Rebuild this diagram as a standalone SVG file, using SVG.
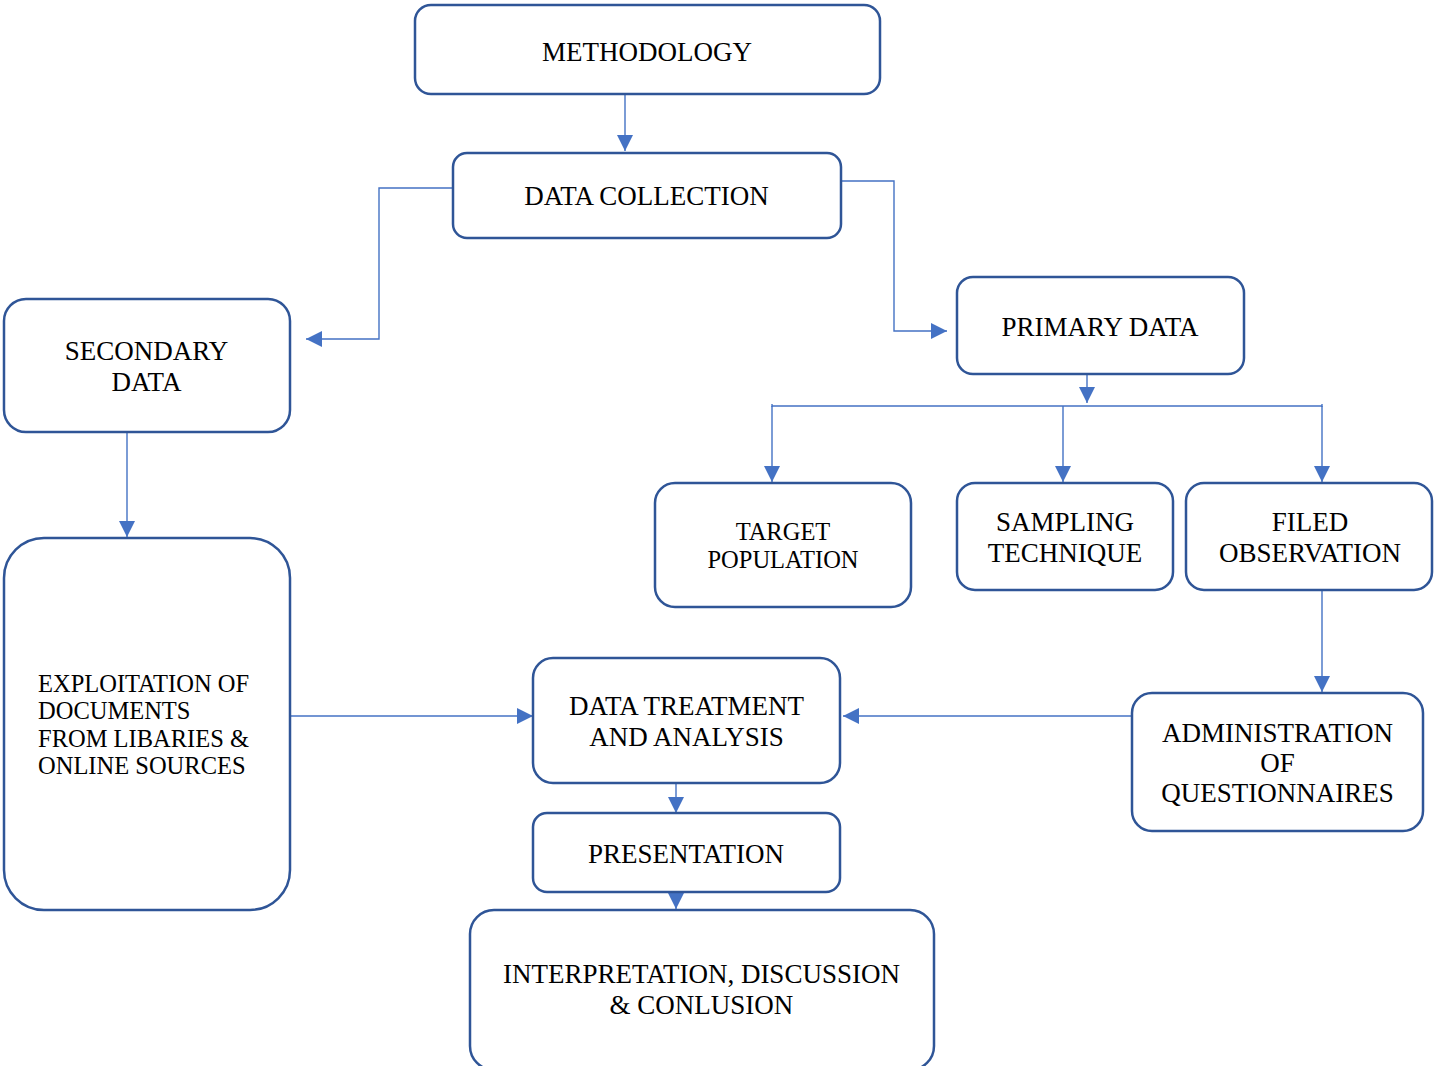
<svg xmlns="http://www.w3.org/2000/svg" width="1434" height="1066" viewBox="0 0 1434 1066">
<style>
.box{fill:#fff;stroke:#2F5597;stroke-width:2.5}
.t{font-family:"Liberation Serif","Times New Roman",serif;font-size:27px;fill:#000;text-anchor:middle}
.s{font-size:24.5px}
.l{text-anchor:start}
.c{fill:none;stroke:#4472C4;stroke-width:1.4}
</style>
<defs>
<marker id="ah" markerUnits="userSpaceOnUse" markerWidth="16" markerHeight="16" viewBox="0 0 16 16" refX="16" refY="8" orient="auto">
<path d="M0,0 L16,8 L0,16 Z" fill="#4472C4"/>
</marker>
</defs>
<rect width="1434" height="1066" fill="#fff"/>
<g id="connectors">
<path class="c" d="M625,94 V151" marker-end="url(#ah)"/>
<path class="c" d="M453,188 H379 V339 H306" marker-end="url(#ah)"/>
<path class="c" d="M841,181 H894 V331 H947" marker-end="url(#ah)"/>
<path class="c" d="M1087,374 V403" marker-end="url(#ah)"/>
<path class="c" d="M772,406 H1322 M772,404 V407 M1322,404 V407"/>
<path class="c" d="M772,406 V482" marker-end="url(#ah)"/>
<path class="c" d="M1063,406 V482" marker-end="url(#ah)"/>
<path class="c" d="M1322,406 V482" marker-end="url(#ah)"/>
<path class="c" d="M127,433 V537" marker-end="url(#ah)"/>
<path class="c" d="M291,716 H533" marker-end="url(#ah)"/>
<path class="c" d="M1132,716 H843" marker-end="url(#ah)"/>
<path class="c" d="M1322,590 V692" marker-end="url(#ah)"/>
<path class="c" d="M676,783 V813" marker-end="url(#ah)"/>
<path class="c" d="M676,879 V909" marker-end="url(#ah)"/>
</g>
<g id="methodology">
<rect class="box" x="415" y="5" width="465" height="89" rx="16"/>
<text class="t" x="647" y="61">METHODOLOGY</text>
</g>
<g id="data-collection">
<rect class="box" x="453" y="153" width="388" height="85" rx="14"/>
<text class="t" x="646.5" y="205">DATA COLLECTION</text>
</g>
<g id="secondary-data">
<rect class="box" x="4" y="299" width="286" height="133" rx="22"/>
<text class="t" x="146.5" y="360">SECONDARY</text>
<text class="t" x="146.5" y="391">DATA</text>
</g>
<g id="primary-data">
<rect class="box" x="957" y="277" width="287" height="97" rx="16"/>
<text class="t" x="1100" y="336">PRIMARY DATA</text>
</g>
<g id="target-population">
<rect class="box" x="655" y="483" width="256" height="124" rx="20"/>
<text class="t s" x="783" y="540">TARGET</text>
<text class="t s" x="783" y="568">POPULATION</text>
</g>
<g id="sampling-technique">
<rect class="box" x="957" y="483" width="216" height="107" rx="18"/>
<text class="t" x="1065" y="531">SAMPLING</text>
<text class="t" x="1065" y="562">TECHNIQUE</text>
</g>
<g id="filed-observation">
<rect class="box" x="1186" y="483" width="246" height="107" rx="18"/>
<text class="t" x="1310" y="531">FILED</text>
<text class="t" x="1310" y="562">OBSERVATION</text>
</g>
<g id="exploitation">
<rect class="box" x="4" y="538" width="286" height="372" rx="40"/>
<text class="t s l" x="38" y="692">EXPLOITATION OF</text>
<text class="t s l" x="38" y="719">DOCUMENTS</text>
<text class="t s l" x="38" y="747">FROM LIBARIES &amp;</text>
<text class="t s l" x="38" y="774">ONLINE SOURCES</text>
</g>
<g id="data-treatment">
<rect class="box" x="533" y="658" width="307" height="125" rx="20"/>
<text class="t" x="686.5" y="715">DATA TREATMENT</text>
<text class="t" x="686.5" y="746">AND ANALYSIS</text>
</g>
<g id="administration">
<rect class="box" x="1132" y="693" width="291" height="138" rx="20"/>
<text class="t" x="1277.5" y="742">ADMINISTRATION</text>
<text class="t" x="1277.5" y="772">OF</text>
<text class="t" x="1277.5" y="802">QUESTIONNAIRES</text>
</g>
<g id="presentation">
<rect class="box" x="533" y="813" width="307" height="79" rx="14"/>
<text class="t" x="686" y="863">PRESENTATION</text>
</g>
<g id="interpretation">
<rect class="box" x="470" y="910" width="464" height="160" rx="24"/>
<text class="t" x="701.5" y="983">INTERPRETATION, DISCUSSION</text>
<text class="t" x="701.5" y="1014">&amp; CONLUSION</text>
</g>
</svg>
